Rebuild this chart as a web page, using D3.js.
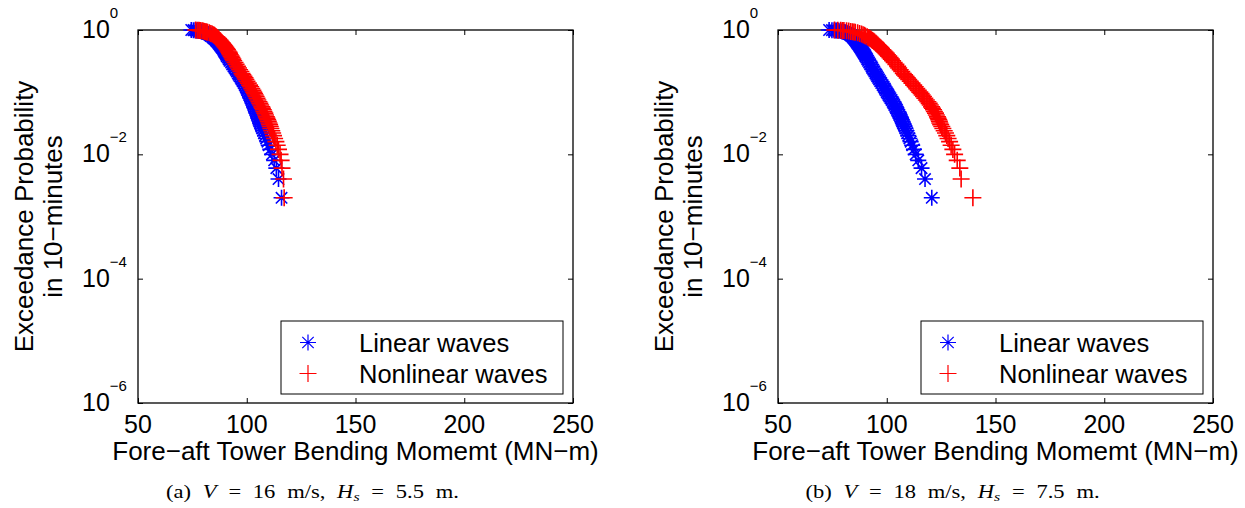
<!DOCTYPE html>
<html>
<head>
<meta charset="utf-8">
<script src="https://cdn.jsdelivr.net/npm/d3@7"></script>
<style>
body { margin: 0; background: #fff; }
svg { display: block; }
</style>
</head>
<body>
<svg id="fig" width="1245" height="508"></svg>
<script>
// exceedance probability levels (rank / 500 samples, thinned where the band is solid)
var exceedProb = [1, 0.995, 0.99, 0.985, 0.98, 0.97, 0.96, 0.95, 0.94, 0.93,
	0.92, 0.9, 0.88, 0.86, 0.84, 0.82, 0.8, 0.78, 0.76, 0.74,
	0.72, 0.7, 0.68, 0.66, 0.64, 0.62, 0.6, 0.58, 0.56, 0.54,
	0.52, 0.5, 0.48, 0.46, 0.44, 0.42, 0.4, 0.38, 0.36, 0.34,
	0.32, 0.3, 0.28, 0.26, 0.245, 0.23, 0.215, 0.2, 0.19, 0.18,
	0.17, 0.16, 0.15, 0.14, 0.13, 0.122, 0.114, 0.107, 0.1, 0.095,
	0.09, 0.085, 0.08, 0.075, 0.07, 0.066, 0.062, 0.058, 0.055, 0.052,
	0.049, 0.046, 0.043, 0.04, 0.038, 0.036, 0.034, 0.032, 0.03, 0.028,
	0.026, 0.024, 0.022, 0.02, 0.018, 0.016, 0.014, 0.012, 0.01, 0.008,
	0.006, 0.004, 0.002];

// (a) V = 16 m/s, Hs = 5.5 m
var linearA = [74.5, 75.5, 76.3, 76.8, 77.2, 77.9, 78.5, 79.1, 79.6, 80.0,
	80.4, 81.1, 81.7, 82.3, 82.8, 83.2, 83.5, 84.1, 84.4, 84.8,
	85.2, 85.6, 85.9, 86.2, 86.6, 86.9, 87.2, 87.5, 87.8, 88.2,
	88.5, 88.9, 89.2, 89.5, 89.8, 90.2, 90.5, 90.8, 91.3, 91.7,
	92.1, 92.8, 93.3, 93.9, 94.4, 94.9, 95.4, 95.9, 96.3, 96.7,
	97.2, 97.6, 98.1, 98.6, 99.1, 99.5, 99.9, 100.2, 100.6, 100.9,
	101.2, 101.5, 101.8, 102.2, 102.5, 102.8, 103.1, 103.4, 103.7, 104.0,
	104.2, 104.5, 104.8, 105.2, 105.4, 105.6, 105.9, 106.1, 106.4, 106.7,
	107.1, 107.5, 107.9, 108.4, 108.9, 109.5, 110.1, 110.8, 111.6, 112.6,
	113.6, 114.6, 116.0];
var nonlinearA = [76.5, 77.3, 78.0, 78.4, 78.8, 79.5, 80.1, 80.7, 81.2, 81.6,
	82.0, 82.8, 83.5, 84.1, 84.7, 85.1, 85.5, 86.0, 86.3, 86.7,
	87.0, 87.3, 87.7, 88.0, 88.3, 88.7, 89.0, 89.3, 89.7, 90.0,
	90.4, 90.8, 91.1, 91.4, 91.8, 92.1, 92.4, 92.8, 93.2, 93.6,
	94.0, 94.6, 95.1, 95.7, 96.2, 96.7, 97.3, 97.8, 98.2, 98.7,
	99.2, 99.6, 100.1, 100.7, 101.3, 101.8, 102.3, 102.8, 103.2, 103.6,
	103.9, 104.3, 104.7, 105.1, 105.6, 106.0, 106.4, 106.9, 107.2, 107.6,
	107.9, 108.3, 108.6, 109.0, 109.3, 109.6, 109.9, 110.2, 110.5, 110.8,
	111.1, 111.5, 111.9, 112.3, 112.8, 113.4, 114.0, 114.6, 115.3, 115.8,
	116.2, 116.9, 117.2];

// (b) V = 18 m/s, Hs = 7.5 m
var linearB = [73.5, 74.8, 75.8, 76.5, 77.0, 77.9, 78.7, 79.4, 80.0, 80.5,
	80.9, 81.6, 82.2, 82.7, 83.1, 83.5, 83.8, 84.2, 84.5, 84.8,
	85.1, 85.4, 85.6, 85.9, 86.2, 86.4, 86.7, 87.0, 87.3, 87.6,
	87.9, 88.2, 88.5, 88.8, 89.2, 89.5, 89.9, 90.2, 90.6, 91.0,
	91.4, 91.9, 92.4, 93.0, 93.3, 93.8, 94.3, 94.8, 95.2, 95.6,
	96.0, 96.5, 97.0, 97.5, 98.1, 98.6, 99.1, 99.5, 100.0, 100.4,
	100.8, 101.2, 101.7, 102.2, 102.7, 103.1, 103.5, 104.0, 104.3, 104.7,
	105.0, 105.4, 105.8, 106.3, 106.6, 106.8, 107.1, 107.4, 107.8, 108.2,
	108.6, 109.0, 109.4, 109.9, 110.4, 111.0, 111.7, 112.5, 113.3, 114.5,
	116.0, 117.6, 120.7];
var nonlinearB = [76.0, 77.5, 78.8, 79.6, 80.3, 81.5, 82.5, 83.4, 84.2, 84.9,
	85.5, 86.6, 87.5, 88.4, 89.1, 89.7, 90.2, 91.0, 91.5, 92.0,
	92.6, 93.0, 93.5, 94.0, 94.4, 94.9, 95.3, 95.8, 96.2, 96.7,
	97.2, 97.6, 98.2, 98.7, 99.2, 99.8, 100.3, 100.9, 101.5, 102.1,
	102.7, 103.4, 104.2, 105.0, 105.5, 106.2, 106.9, 107.6, 108.2, 108.8,
	109.4, 110.1, 110.8, 111.6, 112.4, 113.1, 113.8, 114.5, 115.2, 115.8,
	116.3, 116.9, 117.5, 118.2, 118.9, 119.5, 120.0, 120.6, 121.0, 121.5,
	121.9, 122.4, 122.8, 123.3, 123.6, 123.9, 124.2, 124.4, 124.8, 125.3,
	125.8, 126.4, 127.0, 127.6, 128.2, 128.9, 129.6, 130.4, 131.2, 132.4,
	133.6, 134.2, 139.6];

var xTicks = [50, 100, 150, 200, 250];
var yTickExps = [0, -2, -4, -6];
var seriesNames = ["Linear waves", "Nonlinear waves"];
var captionTags = ["(a)", "(b)"];
var captionSpeeds = ["16", "18"];
var captionHeights = ["5.5", "7.5"];

var width = 435, height = 373;
var sans = "'Liberation Sans', Arial, Helvetica, sans-serif";
var serif = "'Liberation Serif', 'DejaVu Serif', serif";

var svg = d3.select("#fig");

var x = d3.scaleLinear().domain([50, 250]).range([0, width]);
var y = d3.scaleLog().domain([1e-6, 1]).range([height, 0]);

var starPath = "M-8,0H8M0,-8V8M-5.7,-5.7L5.7,5.7M-5.7,5.7L5.7,-5.7";
var plusPath = "M-8.5,0H8.5M0,-8.5V8.5";

var panels = [
	{left: 138, lin: linearA, non: nonlinearA},
	{left: 778, lin: linearB, non: nonlinearB}
];

panels.forEach(function(p, i) {
	var g = svg.append("g").attr("transform", "translate(" + p.left + ",30)");

	// inside ticks on all four sides
	var yTicks = yTickExps.map(e => Math.pow(10, e));
	g.append("g").attr("transform", "translate(0," + height + ")")
		.call(d3.axisBottom(x).tickValues(xTicks).tickSize(-5).tickSizeOuter(0).tickFormat(""));
	g.append("g")
		.call(d3.axisTop(x).tickValues(xTicks).tickSize(-5).tickSizeOuter(0).tickFormat(""));
	g.append("g")
		.call(d3.axisLeft(y).tickValues(yTicks).tickSize(-5).tickSizeOuter(0).tickFormat(""));
	g.append("g").attr("transform", "translate(" + width + ",0)")
		.call(d3.axisRight(y).tickValues(yTicks).tickSize(-5).tickSizeOuter(0).tickFormat(""));
	g.selectAll(".domain").remove();
	g.selectAll(".tick line").attr("stroke", "#000").attr("stroke-width", 1);

	g.append("rect").attr("width", width).attr("height", height)
		.attr("fill", "none").attr("stroke", "#000").attr("stroke-width", 1.3);

	// tick labels
	g.selectAll(".xlab").data(xTicks).enter().append("text")
		.attr("x", d => x(d)).attr("y", height + 30)
		.attr("text-anchor", "middle")
		.style("font-family", sans).style("font-size", "25px")
		.text(d => d);

	var yl = g.selectAll(".ylab").data(yTickExps).enter().append("text")
		.attr("x", -56).attr("y", d => y(Math.pow(10, d)) + 8)
		.style("font-family", sans).style("font-size", "25px");
	yl.append("tspan").text("10");
	yl.append("tspan").attr("dy", -20).style("font-size", "15px")
		.text(d => d === 0 ? "0" : "\u2212" + (-d));

	// axis titles
	g.append("text")
		.attr("x", width / 2).attr("y", height + 57)
		.attr("text-anchor", "middle")
		.style("font-family", sans).style("font-size", "26px")
		.text("Fore\u2212aft Tower Bending Momemt (MN\u2212m)");
	var yt = g.append("text")
		.attr("transform", "translate(-105," + (height / 2) + ") rotate(-90)")
		.attr("text-anchor", "middle")
		.style("font-family", sans).style("font-size", "26px");
	yt.append("tspan").attr("x", 0).attr("y", 0).text("Exceedance Probability");
	yt.append("tspan").attr("x", 0).attr("y", 29).text("in 10\u2212minutes");

	// markers: linear first, nonlinear drawn on top
	var linPts = exceedProb.map((pr, k) => [p.lin[k], pr]);
	var nonPts = exceedProb.map((pr, k) => [p.non[k], pr]);
	g.selectAll(".lin").data(linPts).enter().append("path")
		.attr("d", starPath)
		.attr("transform", d => "translate(" + x(d[0]) + "," + y(d[1]) + ")")
		.attr("fill", "none").attr("stroke", "#0000ff").attr("stroke-width", 1.6);
	g.selectAll(".non").data(nonPts).enter().append("path")
		.attr("d", plusPath)
		.attr("transform", d => "translate(" + x(d[0]) + "," + y(d[1]) + ")")
		.attr("fill", "none").attr("stroke", "#ff0000").attr("stroke-width", 1.6);

	// legend
	var lg = g.append("g").attr("transform", "translate(" + (width - 292) + "," + (height - 82) + ")");
	lg.append("rect").attr("width", 282).attr("height", 73)
		.attr("fill", "#fff").attr("stroke", "#000").attr("stroke-width", 1);
	lg.append("path").attr("d", starPath).attr("transform", "translate(27,21.5)")
		.attr("fill", "none").attr("stroke", "#0000ff").attr("stroke-width", 1.2);
	lg.append("path").attr("d", plusPath).attr("transform", "translate(27,52.5)")
		.attr("fill", "none").attr("stroke", "#ff0000").attr("stroke-width", 1.2);
	lg.selectAll(".legtext").data(seriesNames).enter().append("text")
		.attr("x", 78).attr("y", (d, k) => 31 + k * 31)
		.style("font-family", sans).style("font-size", "25.5px")
		.text(d => d);

	// caption (LaTeX-style, wide Computer Modern look)
	var cx = p.left + width / 2 - 43;
	var cap = svg.append("text")
		.attr("transform", "translate(" + cx + ",498) scale(1.22,1)")
		.attr("text-anchor", "middle")
		.style("font-family", serif).style("font-size", "18.5px")
		.style("word-spacing", "5px")
		.attr("xml:space", "preserve");
	cap.append("tspan").text(captionTags[i] + " ");
	cap.append("tspan").style("font-style", "italic").text("V");
	cap.append("tspan").text(" = " + captionSpeeds[i] + " m/s, ");
	cap.append("tspan").style("font-style", "italic").text("H");
	cap.append("tspan").style("font-style", "italic").style("font-size", "13px").attr("dy", 3).text("s");
	cap.append("tspan").attr("dy", -3).text(" = " + captionHeights[i] + " m.");
});
</script>
</body>
</html>
